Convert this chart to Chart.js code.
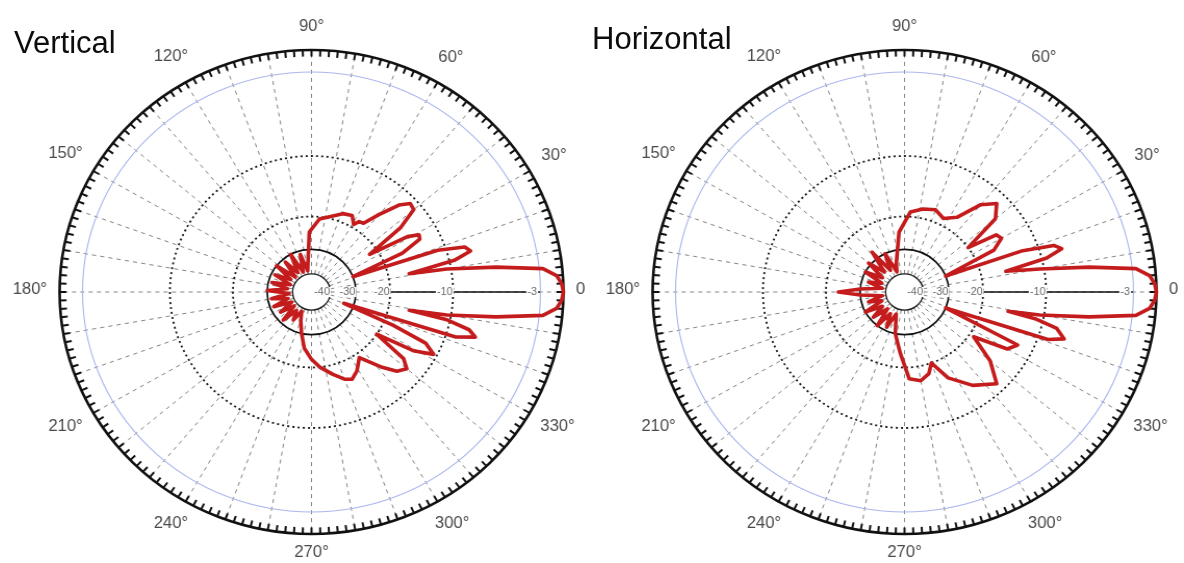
<!DOCTYPE html>
<html>
<head>
<meta charset="utf-8">
<title>Antenna radiation patterns</title>
<script src="https://cdn.jsdelivr.net/npm/chart.js@4.4.1/dist/chart.umd.min.js"></script>
<style>
  html, body { margin: 0; padding: 0; background: #fff; }
  body { width: 1184px; height: 563px; position: relative; overflow: hidden;
         font-family: "Liberation Sans", Arial, sans-serif; }
  .plot { position: absolute; top: 0; width: 592px; height: 563px; }
  .plot canvas { position: absolute; left: 0; top: 0; }
  .title { position: absolute; font-size: 31px; line-height: 31px; color: #0d0d0d; white-space: nowrap; }
</style>
</head>
<body>
<div class="plot" style="left:0"><canvas id="vert" width="592" height="563"></canvas></div>
<div class="plot" style="left:592px"><canvas id="horiz" width="592" height="563"></canvas></div>
<div class="title" style="left:14px;top:27px">Vertical</div>
<div class="title" style="left:592px;top:23px">Horizontal</div>
<script>
// ---- axis labels ----
const angleTicks = [0, 30, 60, 90, 120, 150, 180, 210, 240, 270, 300, 330];
const angleTickLabels = ['0', '30°', '60°', '90°', '120°', '150°', '180°', '210°', '240°', '270°', '300°', '330°'];
const ringTicks = [-40, -30, -20, -10, -3];
const ringTickLabels = ['-40', '-30', '-20', '-10', '-3'];

// ---- vertical-plane pattern: direction (deg, counter-clockwise from 0) and level (dB) ----
const vertAngles = [0, 2, 4, 6, 8, 10, 11, 13, 15, 17, 19, 21, 24, 27, 29, 31, 34, 37, 40, 43, 46, 50, 54, 57, 59, 63, 69, 77, 84, 92,
  100, 106, 112, 118, 124, 130, 136, 142, 148, 154, 160, 166, 172, 178, 184, 190, 196, 202, 208, 214, 220, 226, 232, 238, 244, 250,
  257, 263, 270, 276, 284, 290, 294, 299, 305, 312, 316, 320, 323, 326, 329, 332, 335, 337, 340, 342, 344, 346, 348, 349, 350, 352, 354, 356, 358];
const vertDb = [0, -0.2, -0.8, -2.5, -6, -10.5, -16, -9.5, -7.8, -8.2, -11, -30, -16, -12.6, -12.4, -14, -22, -14, -11, -10.8, -12, -15, -18, -18.2, -19.3, -17.8, -18.2, -19.6, -20.5, -24,
  -38, -31, -38, -30, -37, -31, -38, -30, -37, -31, -38, -31, -37, -30, -38, -31, -37, -31, -38, -32, -38, -31, -37, -33, -38, -34,
  -30, -25, -22, -20, -18, -16.5, -16, -17, -19, -15, -13, -12.2, -13.5, -20, -13, -10.4, -12, -18, -33, -9, -7.3, -8, -10.5, -16, -10.5, -6, -2.5, -0.8, -0.2];

// ---- horizontal-plane pattern ----
const horizAngles = [0, 2, 4, 6, 8, 10, 12, 14, 16, 18, 20, 22, 26, 30, 33, 36, 40, 45, 50, 56, 63, 70, 78, 86, 95,
  105, 110, 116, 122, 128, 134, 140, 146, 152, 158, 164, 170, 176, 180, 184, 190, 196, 202, 208, 214, 220, 226, 232, 238, 244, 250,
  258, 266, 273, 280, 286, 290, 296, 305, 314, 320, 326, 330, 334, 338, 341, 343, 346, 348, 349, 350, 352, 354, 356, 358];
const horizDb = [0, -0.2, -0.8, -2.5, -6, -10.5, -15.3, -9.5, -7.9, -8.5, -12, -30, -16, -14, -14.4, -20, -13, -11.4, -13, -17, -18.5, -17.5, -18, -19, -24,
  -34, -38, -30, -36, -27, -35, -29, -36, -30, -37, -32, -38, -30, -23, -30, -38, -32, -37, -30, -36, -31, -37, -30, -36, -31, -37,
  -30, -23.8, -17.6, -17, -18, -20, -16, -13, -11.1, -14, -19, -13, -12, -30, -9, -7.6, -8.5, -11, -15, -10.5, -6, -2.5, -0.8, -0.2];

// Radar categories: one per degree, drawn clockwise from the right, so
// category i stands for the direction (360 - i) degrees.
const directions = Array.from({ length: 360 }, (_, i) => (360 - i) % 360);

function toSeries(angles, levels) {
  const byDir = new Map(angles.map((a, k) => [((a % 360) + 360) % 360, levels[k]]));
  return directions.map(d => (byDir.has(d) ? byDir.get(d) : null));
}

// Compressed dB radius law of the plot: level -> fraction of the outer radius.
const RADIUS_LAW = [[-50, 0], [-40, 0.075], [-30, 0.176], [-20, 0.312], [-10, 0.562], [-3, 0.909], [0, 1]];

function levelToFraction(v) {
  const law = RADIUS_LAW;
  if (v <= law[0][0]) return 0;
  if (v >= law[law.length - 1][0]) return law[law.length - 1][1];
  for (let k = 1; k < law.length; k++) {
    const [v0, f0] = law[k - 1], [v1, f1] = law[k];
    if (v <= v1) {
      const t = (v - v0) / (v1 - v0);
      if (f0 === 0) return f1 * t;
      return f0 * Math.pow(f1 / f0, t);
    }
  }
  return 1;
}
function fractionToLevel(f) {
  const law = RADIUS_LAW;
  if (f <= 0) return law[0][0];
  for (let k = 1; k < law.length; k++) {
    const [v0, f0] = law[k - 1], [v1, f1] = law[k];
    if (f <= f1) {
      if (f0 === 0) return v0 + (v1 - v0) * f / f1;
      return v0 + (v1 - v0) * Math.log(f / f0) / Math.log(f1 / f0);
    }
  }
  return law[law.length - 1][0];
}

const RING_STYLE = [
  { color: '#1a1a1a', width: 1.3, dash: [] },
  { color: '#111111', width: 1.7, dash: [] },
  { color: '#1a1a1a', width: 1.8, dash: [2, 3] },
  { color: '#1a1a1a', width: 1.8, dash: [2, 3] },
  { color: '#aab6ee', width: 1.1, dash: [] }
];

class DbRadialScale extends Chart.RadialLinearScale {
  static id = 'dbRadial';
  static defaults = {};

  fit() {
    this.xCenter = this.left + this.width / 2;
    this.yCenter = this.top + this.height / 2;
    this.drawingArea = Math.min(this.width, this.height) / 2;
  }
  getDistanceFromCenterForValue(value) {
    if (value === null || value === undefined || isNaN(value)) return NaN;
    return this.drawingArea * levelToFraction(value);
  }
  getValueForDistanceFromCenter(distance) {
    return fractionToLevel(distance / this.drawingArea);
  }

  drawGrid() {
    const ctx = this.ctx;
    const R = this.drawingArea, cx = this.xCenter, cy = this.yCenter;
    const labels = this.getLabels();
    const rIn = this.getDistanceFromCenterForValue(this.ticks[0].value);
    const rMinus20 = this.getDistanceFromCenterForValue(this.ticks[2].value);
    const rMinus3 = this.getDistanceFromCenterForValue(this.ticks[this.ticks.length - 1].value);
    ctx.save();

    // spokes every 10 degrees
    labels.forEach((deg, i) => {
      if (deg % 10 !== 0) return;
      ctx.lineWidth = 1;
      ctx.strokeStyle = 'rgba(100,100,100,0.8)';
      ctx.setLineDash([4, 4]);
      const a = this.getPointPosition(i, rIn), b = this.getPointPosition(i, R - 6);
      ctx.beginPath(); ctx.moveTo(a.x, a.y); ctx.lineTo(b.x, b.y); ctx.stroke();
      if (deg === 0) {
        ctx.setLineDash([]);
        ctx.strokeStyle = '#111';
        ctx.lineWidth = 1.5;
        const c = this.getPointPosition(i, rMinus20), d = this.getPointPosition(i, rMinus3);
        ctx.beginPath(); ctx.moveTo(c.x, c.y); ctx.lineTo(d.x, d.y); ctx.stroke();
      }
    });

    // level rings
    this.ticks.forEach((t, k) => {
      const st = RING_STYLE[k];
      ctx.lineWidth = st.width;
      ctx.strokeStyle = st.color;
      ctx.setLineDash(st.dash);
      ctx.beginPath();
      ctx.arc(cx, cy, this.getDistanceFromCenterForValue(t.value), 0, Math.PI * 2);
      ctx.stroke();
    });

    // outer frame with 2-degree ticks
    ctx.setLineDash([]);
    ctx.strokeStyle = '#111';
    ctx.lineWidth = 2.6;
    ctx.beginPath(); ctx.arc(cx, cy, R, 0, Math.PI * 2); ctx.stroke();
    ctx.lineWidth = 2;
    labels.forEach((deg, i) => {
      if (deg % 2 !== 0) return;
      const a = this.getPointPosition(i, R), b = this.getPointPosition(i, R - 6.5);
      ctx.beginPath(); ctx.moveTo(a.x, a.y); ctx.lineTo(b.x, b.y); ctx.stroke();
    });

    // direction labels
    ctx.font = '16px "Liberation Sans", Arial, sans-serif';
    ctx.fillStyle = '#4a4a4a';
    ctx.textAlign = 'center';
    ctx.textBaseline = 'middle';
    angleTicks.forEach((deg, k) => {
      const i = labels.indexOf(deg);
      const text = angleTickLabels[k];
      const w = ctx.measureText(text).width, h = 18;
      const ang = deg * Math.PI / 180;
      const ext = Math.abs(Math.cos(ang)) * w / 2 + Math.abs(Math.sin(ang)) * h / 2;
      const p = this.getPointPosition(i, R + 12 + ext);
      ctx.fillText(text, p.x, p.y - 2);
    });
    ctx.restore();
  }

  drawLabels() {
    const ctx = this.ctx;
    const i0 = this.getLabels().indexOf(0);
    ctx.save();
    ctx.font = '10.5px "Liberation Sans", Arial, sans-serif';
    ctx.textAlign = 'center';
    ctx.textBaseline = 'middle';
    this.ticks.forEach((t, k) => {
      const r = this.getDistanceFromCenterForValue(t.value);
      const text = ringTickLabels[k];
      const w = ctx.measureText(text).width;
      const p = this.getPointPosition(i0, r - 8);
      ctx.fillStyle = '#fff';
      ctx.fillRect(p.x - w / 2 - 1, p.y - 5, w + 2, 10);
      ctx.fillStyle = '#6a6a6a';
      ctx.fillText(text, p.x, p.y);
    });
    ctx.restore();
  }
}
Chart.register(DbRadialScale);

function makePattern(canvasId, angles, levels, center, radius) {
  const canvas = document.getElementById(canvasId);
  // the figure is slightly wider than tall
  canvas.style.transformOrigin = center[0] + 'px ' + center[1] + 'px';
  canvas.style.transform = 'scaleX(1.041)';
  return new Chart(canvas, {
    type: 'radar',
    data: {
      labels: directions,
      datasets: [{
        data: toSeries(angles, levels),
        borderColor: '#c41c1c',
        borderWidth: 3.6,
        borderJoinStyle: 'round',
        borderCapStyle: 'round',
        pointRadius: 0,
        pointHoverRadius: 0,
        fill: false,
        spanGaps: true,
        tension: 0,
        clip: false
      }]
    },
    options: {
      responsive: false,
      animation: false,
      events: [],
      layout: {
        padding: {
          left: center[0] - radius,
          right: canvas.width - center[0] - radius,
          top: center[1] - radius,
          bottom: canvas.height - center[1] - radius
        }
      },
      plugins: { legend: { display: false }, tooltip: { enabled: false }, title: { display: false } },
      scales: {
        r: {
          type: 'dbRadial',
          min: -50,
          max: 0,
          startAngle: 90,
          pointLabels: { display: false },
          ticks: { display: false },
          afterBuildTicks: s => { s.ticks = ringTicks.map(v => ({ value: v })); }
        }
      }
    }
  });
}

makePattern('vert', vertAngles, vertDb, [311.5, 292], 242);
makePattern('horiz', horizAngles, horizDb, [312.5, 292], 242);
</script>
</body>
</html>
